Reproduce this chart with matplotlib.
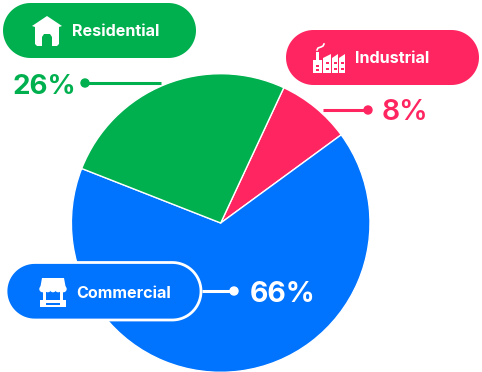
import numpy as np
import matplotlib
matplotlib.use('Agg')
import matplotlib.pyplot as plt
from matplotlib.patches import Polygon, Rectangle, Circle

W, H = 482, 372

categories = ['Industrial', 'Commercial', 'Residential']
shares = [8, 66, 26]
colors = ['#ff2560', '#0073ff', '#00b04f']

plt.rcParams['font.family'] = ['Inter', 'DejaVu Sans']

fig = plt.figure(figsize=(W / 100, H / 100), dpi=100)
ax = fig.add_axes([0, 0, 1, 1])

ax.pie(shares, colors=colors, startangle=65, counterclock=False,
       center=(220.7, H - 223), radius=149.3,
       wedgeprops=dict(edgecolor='white', linewidth=1.0))

ax.set_xlim(0, W)
ax.set_ylim(0, H)
ax.set_aspect('equal')
ax.axis('off')


def Y(py):
    return H - py


def pill(x0, y0, x1, y1, color, edge=None):
    # real half circle ends
    r = (y1 - y0) / 2
    t = np.linspace(-np.pi / 2, np.pi / 2, 40)
    cy = Y(y0 + r)
    xs = np.r_[x1 - r + r * np.cos(t), x0 + r - r * np.cos(t)]
    ys = np.r_[cy + r * np.sin(t), cy - r * np.sin(t)]
    ax.add_patch(Polygon(np.c_[xs, ys], closed=True, facecolor=color, edgecolor=edge or 'none',
                         linewidth=2 if edge else 0, zorder=3))


def leader(x0, x1, py, color, dot_x):
    ax.plot([x0, x1], [Y(py), Y(py)], color=color, lw=2.2, zorder=4, solid_capstyle='butt')
    ax.add_patch(Circle((dot_x, Y(py)), 4, color=color, zorder=5))


def poly(pts, color='white', z=5):
    ax.add_patch(Polygon([(x, Y(y)) for x, y in pts], closed=True, facecolor=color, edgecolor='none', zorder=z))


def rect(x0, y0, x1, y1, color='white', z=5):
    ax.add_patch(Rectangle((x0, Y(y1)), x1 - x0, y1 - y0, facecolor=color, edgecolor='none', zorder=z))


# residential
pill(3, 3, 196, 58, colors[2])
ax.text(72, Y(31.5), categories[2], color='white', fontsize=11.6, fontweight='bold', va='center', ha='left', zorder=6)
ax.text(13, Y(87), '26%', color=colors[2], fontsize=20, fontweight='bold', va='center', ha='left', zorder=6)
leader(85, 161, 83, colors[2], 85)
# house icon
poly([(32, 26), (47, 16), (62, 26), (59, 27), (59, 44), (57, 46), (37, 46), (35, 44), (35, 27)])
poly([(42, 46), (42, 37), (44, 34), (50, 34), (52, 37), (52, 46)], colors[2], 6)

# industrial
pill(286, 30, 479, 85, colors[0])
ax.text(355, Y(58.5), categories[0], color='white', fontsize=11.6, fontweight='bold', va='center', ha='left', zorder=6)
ax.text(382, Y(113), '8%', color=colors[0], fontsize=20.5, fontweight='semibold', va='center', ha='left', zorder=6)
leader(323, 368, 110, colors[0], 368)
# factory icon
poly([(313, 73), (313, 60), (316, 60), (316, 52), (319, 52), (319, 60), (322, 60), (322, 73)])
poly([(323, 73), (323, 58), (331, 54), (331, 73)])
poly([(332, 73), (332, 58), (338, 54), (338, 73)])
poly([(339, 73), (339, 58), (345, 54), (345, 73)])
ax.plot([317, 318, 321, 323, 324], [Y(50), Y(48), Y(47), Y(46), Y(44)], color='white', lw=1.2, zorder=5)
for px, py in [(316, 65), (316, 69), (326, 62), (326, 68), (334, 62), (334, 68), (341, 62), (341, 68)]:
    rect(px, py, px + 3, py + 2, colors[0], 6)

# commercial
pill(6, 262.5, 201, 320, colors[1], 'white')
ax.text(76, Y(293), categories[1], color='white', fontsize=11.6, fontweight='bold', va='center', ha='left', zorder=6)
ax.text(250, Y(294.5), '66%', color='white', fontsize=20.5, fontweight='bold', va='center', ha='left', zorder=6)
leader(202, 234, 291, 'white', 234)
# shop icon
poly([(42, 278), (64, 278), (66, 289), (40, 289)])
for sx in np.arange(40, 66, 5.2):
    ax.add_patch(Circle((sx + 2.6, Y(289)), 2.6, color='white', zorder=5))
rect(43, 291, 46, 301)
rect(60, 291, 63, 301)
rect(40, 300, 66, 307)
rect(46, 303, 60, 304.5, colors[1], 6)

fig.savefig('out.png', dpi=100)
